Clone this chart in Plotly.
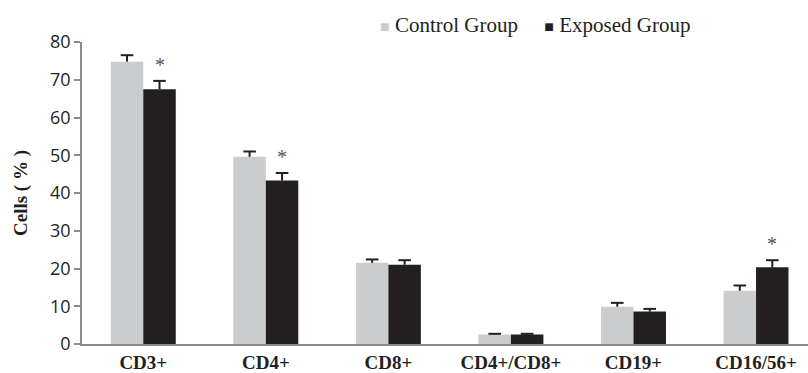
import plotly.graph_objects as go

# Lymphocyte subsets, mean percentage with upper SE bar
categories = ["CD3+", "CD4+", "CD8+", "CD4+/CD8+", "CD19+", "CD16/56+"]
control_mean = [74.8, 49.6, 21.5, 2.5, 9.9, 14.1]
control_err = [1.7, 1.4, 0.9, 0.2, 1.0, 1.4]
exposed_mean = [67.5, 43.3, 21.0, 2.5, 8.6, 20.3]
exposed_err = [2.2, 2.0, 1.2, 0.2, 0.7, 1.9]
significant = [True, True, False, False, False, True]

LIGHT = "#cbcccd"
DARK = "#231f20"
AXIS = "#8c8c8c"
BAR_W = 0.265

idx = list(range(len(categories)))
fig = go.Figure()


def add_group(name, means, errs, color, offset):
    xs = [i + offset for i in idx]
    fig.add_trace(go.Bar(name=name, x=xs, y=means, width=BAR_W,
                         marker=dict(color=color, line=dict(width=0))))
    # one-sided error bars: stem from bar top up to the cap
    sx, sy = [], []
    for x, m, e in zip(xs, means, errs):
        sx += [x, x, None]
        sy += [m, m + e, None]
    fig.add_trace(go.Scatter(x=sx, y=sy, mode="lines", hoverinfo="skip",
                             line=dict(color=DARK, width=2)))
    fig.add_trace(go.Scatter(x=xs, y=[m + e for m, e in zip(means, errs)],
                             mode="markers", hoverinfo="skip",
                             marker=dict(symbol="line-ew", size=9,
                                         line=dict(color=DARK, width=2))))
    return xs


add_group("Control Group", control_mean, control_err, LIGHT, -BAR_W / 2)
exp_x = add_group("Exposed Group", exposed_mean, exposed_err, DARK, BAR_W / 2)

# asterisks over the exposed bars that differ significantly
for i, flag in enumerate(significant):
    if flag:
        fig.add_annotation(
            x=exp_x[i], y=exposed_mean[i] + exposed_err[i],
            xref="x", yref="y", yshift=3,
            text="*", showarrow=False, yanchor="bottom",
            font=dict(family="Liberation Serif", size=20, color="#555555"),
        )

PLOT_L, PLOT_T, PLOT_W, PLOT_H = 82, 42, 726, 302

# legend drawn as a single line of text with coloured squares
fig.add_annotation(
    xref="paper", yref="paper",
    x=(378 - PLOT_L) / PLOT_W, y=1 + (PLOT_T - 25) / PLOT_H,
    showarrow=False,
    text=(f"<span style='color:{LIGHT};font-size:16px'>■</span> Control Group"
          f"&nbsp;&nbsp;&nbsp;&nbsp;&nbsp;<span style='color:{DARK};font-size:16px'>■</span> Exposed Group"),
    font=dict(family="Liberation Serif", size=21, color=DARK),
    xanchor="left", yanchor="middle",
)

fig.update_layout(
    width=808, height=373,
    margin=dict(l=PLOT_L, r=808 - PLOT_L - PLOT_W, t=PLOT_T, b=373 - PLOT_T - PLOT_H,
                autoexpand=False),
    paper_bgcolor="white", plot_bgcolor="white",
    showlegend=False,
    xaxis=dict(
        range=[-0.5, 5.424], tickmode="array", tickvals=idx, ticktext=categories,
        showline=True, linecolor=AXIS, linewidth=2,
        ticks="", ticklabelstandoff=0,
        tickfont=dict(family="Liberation Serif", size=19, color=DARK, weight="bold"),
        showgrid=False, zeroline=False, automargin=False,
    ),
    yaxis=dict(
        range=[0, 80], dtick=10,
        showline=True, linecolor=AXIS, linewidth=1.5,
        ticks="outside", ticklen=6, tickcolor=AXIS, tickwidth=1.5,
        tickfont=dict(family="Open Sans", size=18, color=DARK),
        showgrid=False, zeroline=False, automargin=False,
        title=dict(text="<b>Cells ( % )</b>", standoff=17,
                   font=dict(family="Liberation Serif", size=19, color=DARK)),
    ),
)

fig.write_html("out.html")
